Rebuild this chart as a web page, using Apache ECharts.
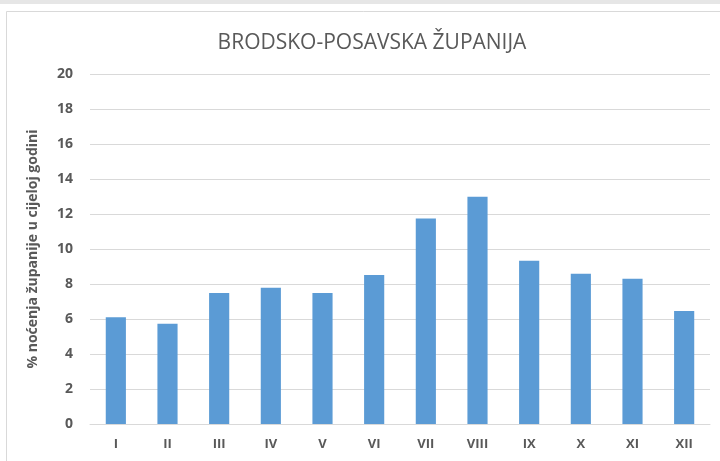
<!DOCTYPE html>
<html>
<head>
<meta charset="utf-8">
<script src="https://cdn.jsdelivr.net/npm/echarts@6/dist/echarts.min.js"></script>
<style>
html, body { margin: 0; padding: 0; background: #fff; }
#chart { width: 720px; height: 461px; }
</style>
</head>
<body>
<div id="chart"></div>
<script>
var months = ['I', 'II', 'III', 'IV', 'V', 'VI', 'VII', 'VIII', 'IX', 'X', 'XI', 'XII'];
var shares = [6.1, 5.73, 7.49, 7.78, 7.49, 8.51, 11.75, 12.99, 9.33, 8.59, 8.3, 6.46];
var titleText = 'BRODSKO-POSAVSKA ŽUPANIJA';
var yName = '% noćenja županije u cijeloj godini';

(function(){
    var myChart = echarts.init(document.getElementById('chart'));

    var option = {
        backgroundColor: '#fff',
        animation: false,
        graphic: [
            {
                type: 'rect',
                shape: { x: 6.5, y: 11.5, width: 720, height: 460 },
                style: { fill: 'none', stroke: '#d9d9d9', lineWidth: 1 }
            },
            {
                type: 'rect',
                shape: { x: 0, y: 0, width: 720, height: 4 },
                style: { fill: '#e6e6e6' }
            }
        ],
        title: {
            text: titleText,
            left: 367,
            textAlign: 'center',
            top: 28,
            textStyle: {
                fontFamily: 'Open Sans',
                fontWeight: 'normal',
                fontSize: 21,
                color: '#595959'
            }
        },
        grid: {
            left: 90,
            right: 10,
            top: 74,
            bottom: 37
        },
        xAxis: {
            type: 'category',
            data: months,
            axisLine: { lineStyle: { color: '#d9d9d9', width: 1 } },
            axisTick: { show: false },
            axisLabel: {
                color: '#595959',
                fontWeight: 'bold',
                fontSize: 13,
                fontFamily: 'Open Sans',
                margin: 14
            }
        },
        yAxis: {
            type: 'value',
            min: 0,
            max: 20,
            interval: 2,
            name: yName,
            nameLocation: 'middle',
            nameGap: 50,
            nameTextStyle: {
                color: '#595959',
                fontWeight: 'bold',
                fontSize: 14,
                fontFamily: 'Open Sans'
            },
            axisLine: { show: false },
            axisTick: { show: false },
            splitLine: { lineStyle: { color: '#d9d9d9', width: 1 } },
            axisLabel: {
                color: '#595959',
                fontWeight: 'bold',
                fontSize: 14,
                fontFamily: 'Open Sans',
                margin: 17
            }
        },
        series: [
            {
                name: yName,
                type: 'bar',
                data: shares,
                barWidth: '39%',
                itemStyle: { color: '#5b9bd5' }
            }
        ]
    };

    myChart.setOption(option);
})();
</script>
</body>
</html>
